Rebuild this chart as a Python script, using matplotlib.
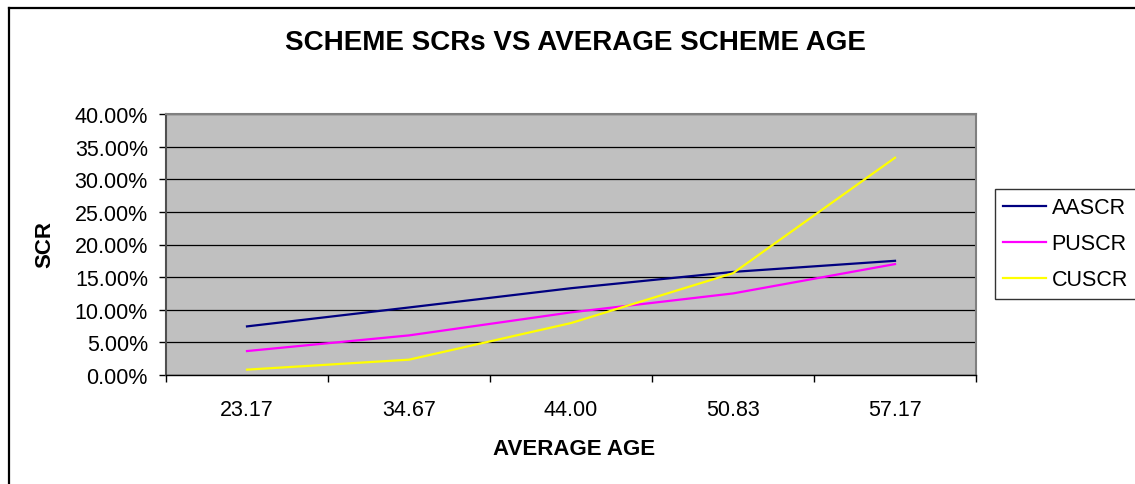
import matplotlib
matplotlib.use("Agg")
import matplotlib.pyplot as plt
from matplotlib.lines import Line2D
from matplotlib.ticker import FixedLocator, FuncFormatter, NullFormatter

plt.rcParams['font.family'] = ['Liberation Sans', 'DejaVu Sans']

categories = ["23.17", "34.67", "44.00", "50.83", "57.17"]
aascr = [7.45, 10.35, 13.30, 15.80, 17.50]
puscr = [3.67, 6.07, 9.60, 12.50, 17.00]
cuscr = [0.82, 2.35, 7.96, 15.60, 33.30]
series_names = ["AASCR", "PUSCR", "CUSCR"]
series_colors = ["#000080", "#FF00FF", "#FFFF00"]
y_ticks = [0, 5, 10, 15, 20, 25, 30, 35, 40]

W, H = 1135, 485
fig = plt.figure(figsize=(W / 100, H / 100), dpi=100)
fig.patch.set_facecolor("white")

# outer chart border (top and left visible)
fig.add_artist(Line2D([9 / W, 9 / W], [0, 1 - 9 / H], transform=fig.transFigure,
                      color="black", lw=1.6))
fig.add_artist(Line2D([9 / W, 1], [1 - 9 / H, 1 - 9 / H], transform=fig.transFigure,
                      color="black", lw=1.6))

left, right, top, bottom = 166, 976, 115, 376
ax = fig.add_axes([left / W, 1 - bottom / H, (right - left) / W, (bottom - top) / H])
ax.set_facecolor("#C0C0C0")

x = list(range(len(categories)))
for vals, name, col in zip([aascr, puscr, cuscr], series_names, series_colors):
    ax.plot(x, vals, color=col, lw=1.6, label=name, zorder=3)

ax.set_xlim(-0.5, len(categories) - 0.5)
ax.set_ylim(0, 40)
ax.yaxis.set_major_locator(FixedLocator(y_ticks))
ax.yaxis.set_major_formatter(FuncFormatter(lambda v, p: f"{v:.2f}%"))
ax.grid(axis="y", color="black", lw=0.9, zorder=1)
ax.set_axisbelow(True)

ax.xaxis.set_major_locator(FixedLocator([i - 0.5 for i in range(len(categories) + 1)]))
ax.xaxis.set_major_formatter(NullFormatter())
ax.xaxis.set_minor_locator(FixedLocator(x))
ax.set_xticklabels(categories, minor=True)
ax.tick_params(axis="x", which="minor", length=0, pad=17, labelsize=15.5)
ax.tick_params(axis="x", which="major", length=5, width=1, direction="out", color="black")
ax.tick_params(axis="y", length=5, width=1, direction="out", labelsize=15.5, pad=8)

for s in ["top", "right"]:
    ax.spines[s].set_color("#808080")
    ax.spines[s].set_linewidth(1.5)
ax.spines["left"].set_color("#505050")
ax.spines["left"].set_linewidth(1.5)
ax.spines["bottom"].set_color("black")
ax.spines["bottom"].set_linewidth(1.0)

fig.text(575 / W, 1 - 43 / H, "SCHEME SCRs VS AVERAGE SCHEME AGE", ha="center",
         va="center", fontsize=20, fontweight="bold")
fig.text(574 / W, 1 - 450 / H, "AVERAGE AGE", ha="center", va="center",
         fontsize=16, fontweight="bold")
fig.text(45 / W, 1 - 245 / H, "SCR", ha="center", va="center", rotation=90,
         fontsize=16, fontweight="bold")

leg = fig.legend(loc="upper left", bbox_to_anchor=(995 / W, 1 - 190 / H),
                 bbox_transform=fig.transFigure, fontsize=15.5, frameon=True,
                 fancybox=False, edgecolor="black", handlelength=2.0,
                 handletextpad=0.25, labelspacing=0.7, borderpad=0.38,
                 borderaxespad=0)
leg.get_frame().set_linewidth(1.0)

fig.savefig("out.png", dpi=100)
